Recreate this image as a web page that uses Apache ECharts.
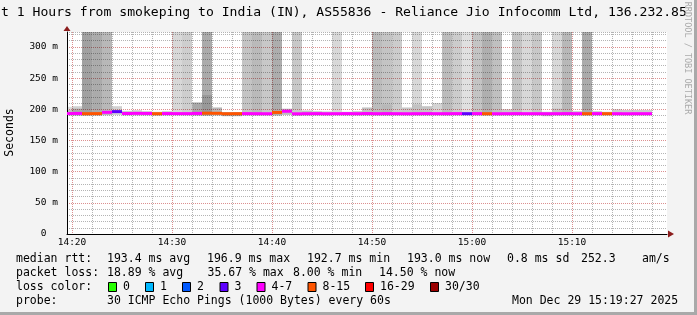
<!DOCTYPE html>
<html><head><meta charset="utf-8">
<script src="https://cdn.jsdelivr.net/npm/echarts@6/dist/echarts.min.js"></script>
<style>html,body{margin:0;padding:0;background:#f3f3f3}#c{width:697px;height:315px}</style>
</head><body><div id="c"></div><script>
// ---------------- data ----------------
const titleText = 't 1 Hours from smokeping to India (IN), AS55836 - Reliance Jio Infocomm Ltd, 136.232.85';
const yAxisName = 'Seconds';
const watermarkText = 'RRDTOOL / TOBI OETIKER';
const xTickValues = [0, 10, 20, 30, 40, 50];          // minutes after 14:20
const xTickLabels = ['14:20', '14:30', '14:40', '14:50', '15:00', '15:10'];
const yTickValues = [0, 50, 100, 150, 200, 250, 300];   // ms
const yTickLabels = ['0  ', '50 m', '100 m', '150 m', '200 m', '250 m', '300 m'];

// one entry per 1-minute step, step k ends at 14:20 + k min
const medianMs = [
  193.2,193.4,193.0,193.1,195.2,196.3,193.3,193.5,193.4,193.0,
  193.2,193.1,193.1,193.4,193.8,193.6,192.9,193.0,193.1,193.0,
  192.9,195.0,196.9,192.8,193.0,193.1,192.9,193.0,193.1,193.0,
  193.2,193.0,193.1,193.0,192.9,193.0,193.1,193.0,193.0,193.1,
  193.0,193.1,193.0,192.9,193.0,193.1,193.0,193.0,192.9,193.0,
  193.1,193.0,193.0,193.1,193.0,193.0,192.9,193.0,193.0];
const lossCount = [
  5,5,10,10,6,3,5,5,5,9,
  5,5,5,5,10,9,9,9,5,5,
  5,10,5,6,5,5,5,5,5,5,
  5,5,5,5,5,5,5,5,5,5,
  3,5,10,5,5,5,5,5,5,5,
  5,5,11,5,9,5,5,5,4];
const smokeLow = [
  190,190,190,190,190.5,191,190,190,190,189.5,
  190,190,190,190,190,190,189,189,190,190,
  190,190,191,189.5,190,190,190,190,190,190,
  190,190,190,190,190,190,190,190,190,190,
  190,190,190,190,190,190,190,190,189,190,
  190,190,190,190,190,190,190,190,190];
const smokeHigh = [
  204,205,400,400,400,205,197.5,198.5,197,196,
  197,400,400,211,400,203,195.5,195.5,400,400,
  400,400,201,400,198,197,196.5,400,196,197,
  203,400,400,400,203,400,205,210,400,400,
  400,400,400,400,200,400,400,400,196,400,
  400,197,400,197,196,200,199,199,199];
const smokeDensity = [
  0.35,0.45,0.92,0.82,0.70,0.45,0.50,0.50,0.50,0.50,
  0.50,0.38,0.48,0.85,0.82,0.70,0.80,0.80,0.58,0.68,
  0.54,0.80,0.65,0.54,0.60,0.55,0.55,0.38,0.55,0.55,
  0.60,0.66,0.58,0.50,0.54,0.38,0.58,0.42,0.66,0.50,
  0.30,0.58,0.78,0.62,0.54,0.58,0.38,0.54,0.60,0.38,
  0.70,0.55,0.82,0.55,0.55,0.50,0.50,0.50,0.50];
const coreHigh = [
  199,201,null,null,null,null,null,null,null,null,
  null,null,null,null,223,null,null,null,null,null,
  null,null,null,null,null,null,null,null,null,null,
  null,null,208,null,null,208,null,null,null,null,
  null,null,null,null,null,null,null,null,null,201,
  null,null,null,null,null,null,null,null,null];
const coreDensity = [
  0.30,0.45,0,0,0,0,0,0,0,0,
  0,0,0,0,0.25,0,0,0,0,0,
  0,0,0,0,0,0,0,0,0,0,
  0,0,0.15,0,0,0.25,0,0,0,0,
  0,0,0,0,0,0,0,0,0,0.25,
  0,0,0,0,0,0,0,0,0];

const lossBucketLabels = ['0', '1', '2', '3', '4-7', '8-15', '16-29', '30/30'];
const lossBucketMin = [0, 1, 2, 3, 4, 8, 16, 30];
const lossColors = ['#26ff00', '#00b8ff', '#0059ff', '#5e00ff', '#ff00ff', '#ff5500', '#ff0000', '#990000'];

const rttStatLabel = 'median rtt:';
const rttStats = ['193.4 ms avg', '196.9 ms max', '192.7 ms min', '193.0 ms now', '0.8 ms sd', '252.3', 'am/s'];
const lossStatLabel = 'packet loss:';
const lossStats = ['18.89 % avg', '35.67 % max', '8.00 % min', '14.50 % now'];
const lossColorLabel = 'loss color:';
const probeLabel = 'probe:';
const probeText = '30 ICMP Echo Pings (1000 Bytes) every 60s';
const dateText = 'Mon Dec 29 15:19:27 2025';

// ---------------- layout ----------------
const MONO = '"DejaVu Sans Mono", monospace';
const rttStatX = [107, 207, 307, 407, 507, 581, 642];
const lossStatX = [107, 207.5, 293, 379];
const lossBoxX = [108, 145, 182, 219.5, 256.5, 307.5, 365, 430];
const rowY = [259.5, 273.5, 287, 301];
// minor vertical grid every 2 minutes (major ones every 10 minutes come from the axis)
const minorGridMinutes = [];
for (let m = 2; m < 60; m += 2) if (m % 10 !== 0) minorGridMinutes.push(m);

function lossColor(n) {
  let c = lossColors[0];
  for (let i = 0; i < lossBucketMin.length; i++) if (n >= lossBucketMin[i]) c = lossColors[i];
  return c;
}

const smokeData = medianMs.map((_, k) => [k, smokeLow[k], smokeHigh[k], smokeDensity[k]]);
const coreData = [];
coreHigh.forEach((h, k) => { if (h !== null) coreData.push([k, smokeLow[k], h, coreDensity[k]]); });
const medianData = medianMs.map((m, k) => [k, m, lossCount[k]]);

function clipToGrid(rect, params) {
  const cs = params.coordSys;
  return echarts.graphic.clipRectByRect(rect, { x: cs.x, y: cs.y, width: cs.width, height: cs.height });
}
function renderBand(params, api) {
  const k = api.value(0);
  const p0 = api.coord([k - 1, api.value(2)]);
  const p1 = api.coord([k, api.value(1)]);
  const shape = clipToGrid({ x: p0[0], y: p0[1], width: p1[0] - p0[0], height: p1[1] - p0[1] }, params);
  return shape && { type: 'rect', shape, style: { fill: 'rgba(0,0,0,' + (0.4 * api.value(3)).toFixed(3) + ')' } };
}
function renderMedian(params, api) {
  const k = api.value(0);
  const p0 = api.coord([k - 1, api.value(1)]);
  const p1 = api.coord([k, api.value(1)]);
  const shape = clipToGrid({ x: p0[0], y: p0[1] - 1.5, width: p1[0] - p0[0], height: 3 }, params);
  return shape && { type: 'rect', shape, style: { fill: lossColor(api.value(2)) } };
}
const RED = '#dc9090', GRAY = '#b4b4b4', NONE = 'rgba(0,0,0,0)';
function renderVGrid(params, api) {
  const cs = params.coordSys;
  const x = Math.round(api.coord([api.value(0), 0])[0]) + 0.5;
  return { type: 'line', shape: { x1: x, y1: cs.y, x2: x, y2: cs.y + cs.height },
    style: { stroke: GRAY, lineWidth: 1, lineDash: [1, 1] } };
}

const xLineColors = [];
for (let i = 0; i < 20; i++) xLineColors.push(i === 1 ? RED : NONE);
const yLineColors = [RED, GRAY, GRAY, GRAY, GRAY];

const graphics = [];
function txt(x, y, text, size, extra) {
  graphics.push(Object.assign({ type: 'text', x, y, silent: true,
    style: { text, font: size + 'px ' + MONO, fill: '#000', verticalAlign: 'middle', align: 'left' } }, extra || {}));
}
txt(1, 13, titleText, 13.1);
graphics.push({ type: 'text', x: 10.5, y: 132.5, rotation: Math.PI / 2,
  style: { text: yAxisName, font: '11.5px ' + MONO, fill: '#000', align: 'center', verticalAlign: 'middle' } });
graphics.push({ type: 'text', x: 687, y: 58, rotation: -Math.PI / 2,
  style: { text: watermarkText, font: '8.5px ' + MONO, fill: '#aaaaaa', align: 'center', verticalAlign: 'middle' } });
txt(16, rowY[0], rttStatLabel, 11.5);
rttStats.forEach((s, i) => txt(rttStatX[i], rowY[0], s, 11.5));
txt(16, rowY[1], lossStatLabel, 11.5);
lossStats.forEach((s, i) => txt(lossStatX[i], rowY[1], s, 11.5));
txt(16, rowY[2], lossColorLabel, 11.5);
lossBucketLabels.forEach((s, i) => {
  graphics.push({ type: 'rect', silent: true, shape: { x: lossBoxX[i] + 0.5, y: rowY[2] - 4.5, width: 8, height: 9 },
    style: { fill: lossColors[i], stroke: '#000', lineWidth: 1 } });
  txt(lossBoxX[i] + 15, rowY[2], s, 11.5);
});
txt(16, rowY[3], probeLabel, 11.5);
txt(107, rowY[3], probeText, 11.5);
txt(512, rowY[3], dateText, 11.5);
// frame & axis arrows
graphics.push({ type: 'rect', silent: true, shape: { x: 694, y: 0, width: 3, height: 315 }, style: { fill: '#a9a9a9' } });
graphics.push({ type: 'rect', silent: true, shape: { x: 0, y: 312, width: 697, height: 3 }, style: { fill: '#a9a9a9' } });
graphics.push({ type: 'polygon', silent: true, shape: { points: [[63.5, 31], [70.5, 31], [67, 26]] }, style: { fill: '#8b1c1c' } });
graphics.push({ type: 'polygon', silent: true, shape: { points: [[668, 230.5], [668, 237.5], [674, 234]] }, style: { fill: '#8b1c1c' } });

const option = {
  animation: false,
  backgroundColor: '#f3f3f3',
  grid: { left: 67, right: 30, top: 32, bottom: 81, containLabel: false, outerBoundsMode: 'none',
          show: true, backgroundColor: '#ffffff', borderWidth: 0 },
  xAxis: {
    type: 'value', min: -0.5, max: 59.5, interval: 0.5,
    axisLine: { show: true, onZero: false, lineStyle: { color: '#000', width: 1 } },
    axisTick: { show: false },
    axisLabel: { margin: 4, fontFamily: MONO, fontSize: 9.5, color: '#000',
      formatter: v => { const i = xTickValues.findIndex(t => Math.abs(t - v) < 1e-6); return i >= 0 ? xTickLabels[i] : ''; } },
    splitLine: { show: true, lineStyle: { color: xLineColors, width: 1, type: [1, 1] } }
  },
  yAxis: {
    type: 'value', min: 0, max: 324, interval: 10,
    axisLine: { show: true, onZero: false, lineStyle: { color: '#000', width: 1 } },
    axisTick: { show: false },
    axisLabel: { margin: 9, fontFamily: MONO, fontSize: 9.5, color: '#000',
      formatter: v => { const i = yTickValues.findIndex(t => Math.abs(t - v) < 1e-6); return i >= 0 ? yTickLabels[i] : ''; } },
    splitLine: { show: true, lineStyle: { color: yLineColors, width: 1, type: [1, 1] } }
  },
  series: [
    { type: 'custom', name: 'smoke', data: smokeData, renderItem: renderBand, encode: { x: 0, y: [1, 2] }, silent: true, z: 2 },
    { type: 'custom', name: 'smokeCore', data: coreData, renderItem: renderBand, encode: { x: 0, y: [1, 2] }, silent: true, z: 2 },
    { type: 'custom', name: 'vgrid', data: minorGridMinutes.map(m => [m, 0]), renderItem: renderVGrid, encode: { x: 0, y: 1 }, silent: true, z: 3 },
    { type: 'custom', name: 'median', data: medianData, renderItem: renderMedian, encode: { x: 0, y: 1 }, silent: true, z: 5 }
  ],
  graphic: { elements: graphics }
};
const chart = echarts.init(document.getElementById('c'), null, { renderer: 'canvas' });
chart.setOption(option);

// minor vertical grid lines again as graphic elements, positioned through the chart's own x scale
const plotTopPx = chart.convertToPixel({ gridIndex: 0 }, [0, 324])[1];
const plotBottomPx = chart.convertToPixel({ gridIndex: 0 }, [0, 0])[1];
const vgrid = minorGridMinutes.map((m, i) => {
  const x = Math.round(chart.convertToPixel({ gridIndex: 0 }, [m, 0])[0]) + 0.5;
  return { type: 'line', id: 'vg' + i, z: 3, silent: true,
    shape: { x1: x, y1: plotTopPx, x2: x, y2: plotBottomPx },
    style: { stroke: GRAY, lineWidth: 1, lineDash: [1, 1] } };
});
chart.setOption({ graphic: { elements: graphics.concat(vgrid) } });
</script></body></html>
